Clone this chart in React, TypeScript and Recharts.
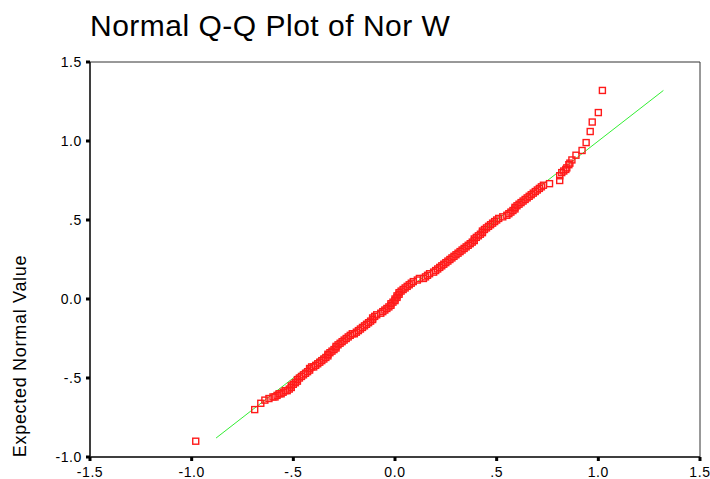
import { ScatterChart, Scatter, XAxis, YAxis, ReferenceLine, ReferenceArea } from 'recharts';

// observed value (x) and expected normal value (y), sorted
const observed = [
  -0.98, -0.69, -0.66, -0.64, -0.62, -0.6, -0.59, -0.58, -0.57, -0.56,
  -0.55, -0.54, -0.53, -0.52, -0.51, -0.51, -0.5, -0.49, -0.48, -0.48,
  -0.47, -0.46, -0.45, -0.44, -0.43, -0.42, -0.42, -0.41, -0.4, -0.39,
  -0.38, -0.37, -0.36, -0.35, -0.34, -0.33, -0.33, -0.32, -0.31, -0.3,
  -0.29, -0.29, -0.28, -0.27, -0.26, -0.25, -0.24, -0.23, -0.22, -0.21,
  -0.2, -0.19, -0.18, -0.17, -0.16, -0.15, -0.14, -0.13, -0.12, -0.11,
  -0.11, -0.1, -0.09, -0.07, -0.06, -0.05, -0.04, -0.03, -0.02, -0.02,
  -0.01, 0.0, 0.0, 0.01, 0.01, 0.02, 0.02, 0.03, 0.04, 0.05,
  0.06, 0.07, 0.08, 0.09, 0.11, 0.12, 0.14, 0.15, 0.16, 0.17,
  0.19, 0.2, 0.21, 0.22, 0.23, 0.24, 0.25, 0.26, 0.27, 0.28,
  0.29, 0.3, 0.31, 0.32, 0.33, 0.34, 0.35, 0.36, 0.37, 0.38,
  0.39, 0.39, 0.4, 0.41, 0.42, 0.43, 0.43, 0.44, 0.45, 0.46,
  0.47, 0.48, 0.49, 0.5, 0.51, 0.53, 0.55, 0.56, 0.57, 0.58,
  0.59, 0.59, 0.6, 0.61, 0.62, 0.63, 0.64, 0.65, 0.66, 0.67,
  0.68, 0.69, 0.7, 0.71, 0.72, 0.73, 0.76, 0.81, 0.81, 0.82,
  0.83, 0.84, 0.845, 0.855, 0.86, 0.87, 0.89, 0.92, 0.94, 0.96,
  0.97, 1.0, 1.02,
];

const expected = [
  -0.9, -0.7, -0.66, -0.64, -0.63, -0.62, -0.62, -0.61, -0.6, -0.6,
  -0.59, -0.58, -0.58, -0.57, -0.56, -0.55, -0.54, -0.53, -0.52, -0.51,
  -0.5, -0.49, -0.48, -0.47, -0.46, -0.45, -0.44, -0.43, -0.43, -0.42,
  -0.41, -0.4, -0.39, -0.38, -0.37, -0.36, -0.35, -0.34, -0.33, -0.32,
  -0.31, -0.3, -0.29, -0.28, -0.27, -0.26, -0.25, -0.24, -0.23, -0.22,
  -0.22, -0.21, -0.2, -0.19, -0.18, -0.17, -0.16, -0.15, -0.14, -0.13,
  -0.12, -0.11, -0.1, -0.09, -0.08, -0.07, -0.06, -0.05, -0.04, -0.03,
  -0.02, -0.01, 0.0, 0.01, 0.02, 0.03, 0.04, 0.05, 0.06, 0.07,
  0.08, 0.09, 0.1, 0.11, 0.12, 0.13, 0.13, 0.14, 0.15, 0.16,
  0.17, 0.18, 0.19, 0.2, 0.21, 0.22, 0.23, 0.24, 0.25, 0.26,
  0.27, 0.28, 0.29, 0.3, 0.31, 0.32, 0.33, 0.34, 0.35, 0.36,
  0.37, 0.38, 0.39, 0.4, 0.41, 0.42, 0.43, 0.44, 0.45, 0.46,
  0.47, 0.48, 0.49, 0.5, 0.51, 0.52, 0.53, 0.54, 0.55, 0.56,
  0.57, 0.58, 0.59, 0.6, 0.61, 0.62, 0.63, 0.64, 0.65, 0.66,
  0.67, 0.68, 0.69, 0.7, 0.71, 0.72, 0.73, 0.75, 0.78, 0.8,
  0.81, 0.82, 0.83, 0.85, 0.86, 0.88, 0.91, 0.94, 0.99, 1.06,
  1.12, 1.18, 1.32,
];

const xTicks = [-1.5, -1.0, -0.5, 0.0, 0.5, 1.0, 1.5];
const xTickLabels = ['-1.5', '-1.0', '-.5', '0.0', '.5', '1.0', '1.5'];
const yTicks = [-1.0, -0.5, 0.0, 0.5, 1.0, 1.5];
const yTickLabels = ['-1.0', '-.5', '0.0', '.5', '1.0', '1.5'];

// fitted diagonal
const lineStart = -0.88;
const lineEnd = 1.32;

const data = observed.map((x, i) => ({ x, y: expected[i] }));

const font = '"Liberation Sans", Arial, sans-serif';

const SquareMarker = (props: { cx?: number; cy?: number }) => {
  const { cx = 0, cy = 0 } = props;
  return (
    <rect x={cx - 3} y={cy - 3} width={6} height={6} fill="none" stroke="#ff1a1a" strokeWidth={1.4} />
  );
};

export default function App() {
  const tickStyle = { fill: '#000', fontSize: 14, fontFamily: font, letterSpacing: 0.6 };
  return (
    <div style={{ position: 'absolute', left: 0, top: 0, width: 710, height: 479, background: '#fff', overflow: 'hidden' }}>
      <div
        style={{
          position: 'absolute',
          left: 90,
          top: 8,
          fontFamily: font,
          fontSize: 30,
          letterSpacing: 0.5,
          color: '#000',
          whiteSpace: 'nowrap',
          lineHeight: '36px',
        }}
      >
        Normal Q-Q Plot of Nor W
      </div>
      <div
        style={{
          position: 'absolute',
          left: 20,
          top: 356,
          transform: 'translate(-50%, -50%) rotate(-90deg)',
          fontFamily: font,
          fontSize: 18,
          letterSpacing: 0.7,
          color: '#000',
          whiteSpace: 'nowrap',
        }}
      >
        Expected Normal Value
      </div>
      <ScatterChart width={710} height={479} margin={{ top: 62, right: 10, bottom: 0, left: 40 }}>
        <XAxis
          type="number"
          dataKey="x"
          domain={[-1.5, 1.5]}
          ticks={xTicks}
          tickFormatter={(v: number) => xTickLabels[xTicks.indexOf(v)] ?? String(v)}
          height={22}
          axisLine={{ stroke: '#222', strokeWidth: 1.5 }}
          tickLine={{ stroke: '#000', strokeWidth: 3 }}
          tickSize={4}
          tickMargin={6}
          tick={tickStyle}
          interval={0}
          allowDataOverflow
        />
        <YAxis
          type="number"
          dataKey="y"
          domain={[-1.0, 1.5]}
          ticks={yTicks}
          tickFormatter={(v: number) => yTickLabels[yTicks.indexOf(v)] ?? String(v)}
          width={50}
          axisLine={{ stroke: '#222', strokeWidth: 1.5 }}
          tickLine={{ stroke: '#000', strokeWidth: 3 }}
          tickSize={4}
          tickMargin={4}
          tick={tickStyle}
          interval={0}
          allowDataOverflow
        />
        <ReferenceArea x1={-1.5} x2={1.5} y1={-1.0} y2={1.5} fill="none" stroke="#333" strokeWidth={1} ifOverflow="visible" />
        <ReferenceLine
          segment={[{ x: lineStart, y: lineStart }, { x: lineEnd, y: lineEnd }]}
          stroke="#33ee33"
          strokeWidth={1}
        />
        <Scatter data={data} shape={SquareMarker} isAnimationActive={false} />
      </ScatterChart>
    </div>
  );
}
